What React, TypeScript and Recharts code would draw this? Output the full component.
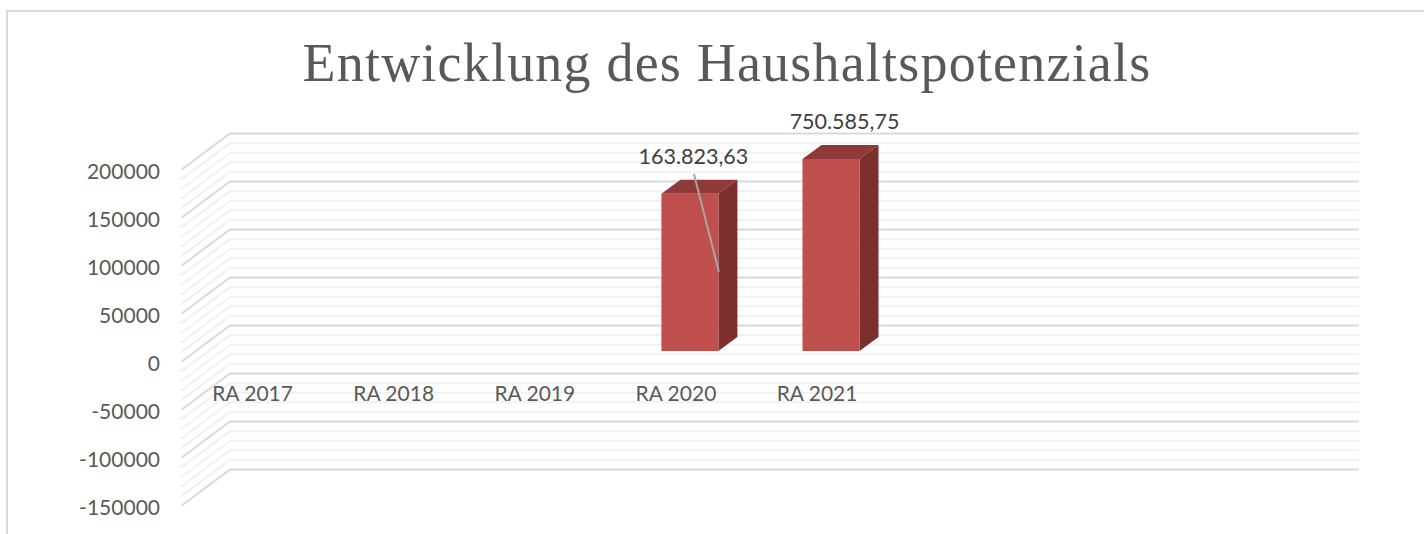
import { Bar, CartesianGrid, ComposedChart, LabelList, XAxis, YAxis } from 'recharts';

const categories = ['RA 2017', 'RA 2018', 'RA 2019', 'RA 2020', 'RA 2021', '', '', ''];
const potential = [null, null, null, 163823.63, 750585.75, null, null, null];
const majorTicks = [-150000, -100000, -50000, 0, 50000, 100000, 150000, 200000];
const minorTicks = [
  -140000, -130000, -120000, -110000, -90000, -80000, -70000, -60000, -40000, -30000, -20000, -10000,
  10000, 20000, 30000, 40000, 60000, 70000, 80000, 90000, 110000, 120000, 130000, 140000, 160000,
  170000, 180000, 190000,
];

const axisMin = -150000;
const axisMax = 200000;

// the axis cuts the 2021 bar off, the label still shows the real value
const data = categories.map((name, i) => ({
  name,
  value: potential[i],
  plotted: potential[i] === null ? null : Math.min(potential[i] as number, axisMax),
}));

const labelFont = 'Lato, sans-serif';
const depthX = 19;
const depthY = 14;

function Bar3D({ x, y, width, height }: any) {
  if (!height) return null;
  const r = x + width;
  const b = y + height;
  return (
    <g>
      <polygon
        points={`${x},${y} ${x + depthX},${y - depthY} ${r + depthX},${y - depthY} ${r},${y}`}
        fill="#8f3a38"
      />
      <polygon
        points={`${r},${y} ${r + depthX},${y - depthY} ${r + depthX},${b - depthY} ${r},${b}`}
        fill="#7b302e"
      />
      <rect x={x} y={y} width={width} height={height} fill="#c0504d" />
    </g>
  );
}

// Excel draws the grid on the back and side walls, behind the bars
function wallLine(stroke: string) {
  return ({ y1, key }: any) => {
    const wallY = y1 - 25.5;
    return (
      <polyline
        key={key}
        points={`181,${y1 + 11} 230,${wallY} 1359,${wallY}`}
        fill="none"
        stroke={stroke}
        strokeWidth={2}
      />
    );
  };
}

function ValueTick({ y, payload }: any) {
  return (
    <text x={160} y={y + 12} dy={7.5} textAnchor="end" fontFamily={labelFont} fontSize={21} fill="#595959">
      {payload.value}
    </text>
  );
}

function CategoryTick({ x, y, payload }: any) {
  return (
    <text x={x - 14} y={y - 101} dy={-1} textAnchor="middle" fontFamily={labelFont} fontSize={21} fill="#595959">
      {payload.value}
    </text>
  );
}

function ValueLabel({ x, y, width, value }: any) {
  if (value == null) return null;
  const cx = x + width / 2;
  const clipped = value > axisMax;
  return (
    <g>
      {!clipped && (
        <line x1={cx + 4} y1={y - 20} x2={cx + 29} y2={y + 78} stroke="#a6a6a6" strokeWidth={2} />
      )}
      <text
        x={cx + (clipped ? 13.5 : 3.5)}
        y={y - 30}
        textAnchor="middle"
        fontFamily={labelFont}
        fontSize={21.5}
        fill="#404040"
      >
        {Number(value).toLocaleString('de-DE', { minimumFractionDigits: 2, maximumFractionDigits: 2 })}
      </text>
    </g>
  );
}

export default function App() {
  return (
    <div style={{ position: 'absolute', left: 0, top: 0, width: 1424, height: 534, background: '#fff', overflow: 'hidden' }}>
      <div
        style={{
          position: 'absolute',
          left: 6,
          top: 10,
          width: 1424,
          height: 534,
          borderLeft: '2px solid #d9d9d9',
          borderTop: '2px solid #d9d9d9',
        }}
      />
      <div
        style={{
          position: 'absolute',
          left: 0,
          top: 28,
          width: 1454,
          textAlign: 'center',
          fontFamily: '"Liberation Serif", serif',
          fontSize: 54,
          letterSpacing: 1.2,
          lineHeight: '70px',
          color: '#595959',
          whiteSpace: 'nowrap',
        }}
      >
        Entwicklung des Haushaltspotenzials
      </div>
      <div style={{ position: 'absolute', left: 0, top: 0 }}>
        <ComposedChart
          width={1424}
          height={534}
          data={data}
          margin={{ top: 159, right: 99, bottom: 0, left: 0 }}
          barSize={57}
        >
          <CartesianGrid vertical={false} horizontalValues={minorTicks} horizontal={wallLine('#f1f1f1')} />
          <CartesianGrid vertical={false} horizontalValues={majorTicks} horizontal={wallLine('#d9d9d9')} />
          <XAxis dataKey="name" height={39} axisLine={false} tickLine={false} interval={0} tick={CategoryTick} />
          <YAxis
            width={196}
            domain={[axisMin, axisMax]}
            ticks={majorTicks}
            axisLine={false}
            tickLine={false}
            interval={0}
            tick={ValueTick}
          />
          <Bar dataKey="plotted" shape={Bar3D} isAnimationActive={false}>
            <LabelList dataKey="value" content={ValueLabel} />
          </Bar>
        </ComposedChart>
      </div>
    </div>
  );
}
